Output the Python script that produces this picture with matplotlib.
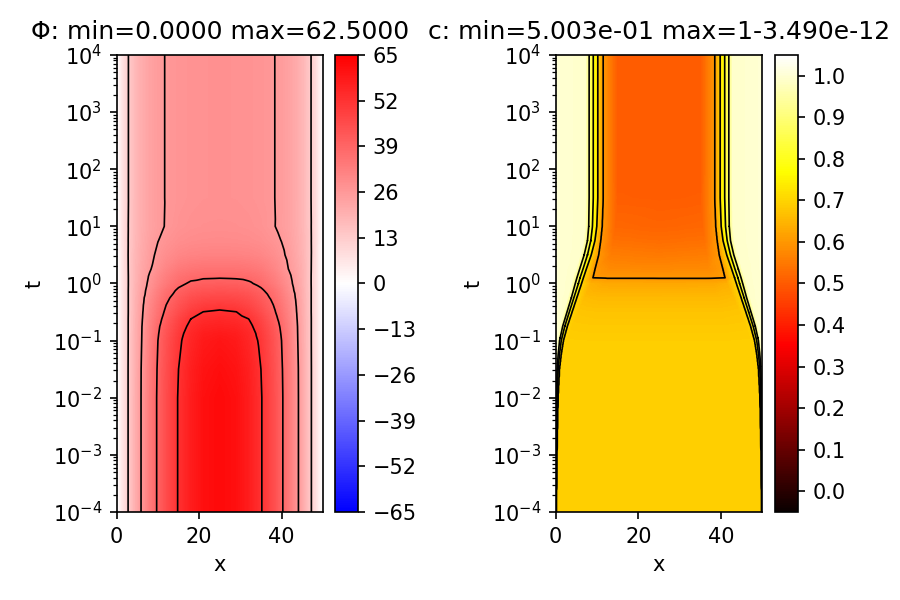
import numpy as np
import matplotlib
matplotlib.use("Agg")
import matplotlib.pyplot as plt
from matplotlib.tri import Triangulation, LinearTriInterpolator

# ---------------- data ----------------
L = 50.0  # domain length; both fields are symmetric about x = 25

# Phi: half-domain profiles (x <= 25) at several times (log10 t)
phi_x = [0, 1.5, 3, 4.5, 6, 8, 10, 12, 15, 18, 21, 25]
phi_logt = [-4, -2, -1.5, -1, -0.875, -0.75, -0.625, -0.5, -0.375, -0.25, -0.125,
            0, 0.125, 0.25, 0.5, 0.75, 1, 1.5, 2, 4]
phi_rows = [
    [0, 7.3, 14.1, 20.5, 26.4, 33.6, 40.0, 45.6, 52.5, 57.6, 60.9, 62.5],
    [0, 7.3, 14.1, 20.5, 26.4, 33.6, 40.0, 45.6, 52.5, 57.6, 60.9, 62.5],
    [0, 7.3, 14.1, 20.4, 26.3, 33.4, 39.7, 45.2, 52.0, 57.0, 60.0, 61.4],
    [0, 7.2, 14.0, 20.2, 25.8, 32.6, 39.0, 44.3, 50.8, 55.4, 58.3, 59.5],
    [0, 7.2, 14.0, 20.2, 25.7, 32.3, 38.5, 43.6, 50.0, 54.8, 57.3, 58.2],
    [0, 7.2, 14.0, 20.1, 25.6, 32.0, 37.9, 42.8, 48.8, 53.6, 55.8, 56.5],
    [0, 7.2, 14.0, 20.0, 25.3, 31.4, 36.9, 41.5, 47.5, 52.1, 54.0, 54.8],
    [0, 7.2, 13.9, 19.8, 25.0, 30.8, 35.8, 40.2, 45.4, 49.6, 52.1, 52.8],
    [0, 7.2, 13.9, 19.7, 24.7, 30.2, 34.9, 39.0, 43.8, 47.3, 49.3, 50.0],
    [0, 7.2, 13.9, 19.5, 24.3, 29.4, 33.8, 37.7, 42.0, 45.0, 46.5, 47.0],
    [0, 7.2, 13.9, 19.3, 23.8, 28.2, 32.6, 36.2, 40.0, 42.5, 43.6, 44.0],
    [0, 7.3, 13.8, 19.0, 23.2, 27.3, 30.9, 34.0, 37.6, 39.8, 40.9, 41.2],
    [0, 7.3, 13.8, 18.9, 22.8, 26.6, 29.9, 32.7, 35.9, 37.5, 38.0, 38.2],
    [0, 7.4, 13.9, 18.8, 22.3, 25.5, 28.5, 31.2, 34.0, 35.2, 35.7, 35.8],
    [0, 7.5, 14.0, 18.5, 21.5, 24.6, 27.0, 28.8, 30.6, 31.4, 31.7, 31.8],
    [0, 7.7, 13.9, 18.2, 21.1, 23.9, 25.9, 27.3, 28.7, 29.3, 29.6, 29.7],
    [0, 7.9, 13.8, 17.9, 20.8, 23.4, 25.0, 26.3, 27.6, 28.2, 28.5, 28.6],
    [0, 8.1, 13.6, 17.9, 20.8, 23.5, 25.1, 26.2, 27.1, 27.6, 27.9, 28.0],
    [0, 8.1, 13.6, 17.9, 20.8, 23.5, 25.1, 26.2, 27.1, 27.6, 27.9, 28.0],
    [0, 8.1, 13.6, 17.9, 20.8, 23.5, 25.1, 26.2, 27.1, 27.6, 27.9, 28.0],
]

# c: half-domain profiles; each time row has its own x sample points
c_logt = [-4, -3, -2, -1.5, -1.25, -1, -0.75, -0.5, -0.25, 0, 0.1, 0.25, 0.5,
          0.75, 1, 1.5, 2, 4]
c_x_rows = [
    [0, 0.02, 0.05, 0.10, 0.15, 0.5, 5, 25],
    [0, 0.03, 0.10, 0.18, 0.28, 0.6, 5, 25],
    [0, 0.05, 0.18, 0.35, 0.55, 1.0, 6, 25],
    [0, 0.10, 0.35, 0.60, 0.90, 1.5, 6, 25],
    [0, 0.25, 0.60, 0.90, 1.30, 2.0, 7, 25],
    [0, 0.45, 0.95, 1.35, 1.85, 2.8, 8, 25],
    [0, 1.00, 1.70, 2.20, 2.80, 4.0, 9, 25],
    [0, 1.90, 2.75, 3.30, 3.95, 5.5, 10, 25],
    [0, 2.90, 3.80, 4.40, 5.10, 7.0, 11, 25],
    [0, 3.80, 4.75, 5.50, 6.25, 8.5, 12, 25],
    [0, 4.20, 5.15, 5.90, 6.70, 9.0, 12.5, 25],
    [0, 4.90, 5.80, 6.60, 7.40, 9.5, 13, 25],
    [0, 6.00, 6.90, 7.70, 8.60, 10.4, 13.5, 25],
    [0, 6.80, 7.70, 8.50, 9.50, 10.9, 14, 25],
    [0, 7.10, 8.00, 8.90, 9.95, 11.25, 14.5, 25],
    [0, 7.20, 8.10, 9.10, 10.2, 11.5, 15, 25],
    [0, 7.20, 8.10, 9.10, 10.2, 11.5, 15, 25],
    [0, 7.20, 8.10, 9.10, 10.2, 11.5, 15, 25],
]
c_rows = [
    [1.0, 0.99, 0.9, 0.8, 0.7, 0.690, 0.690, 0.690],
    [1.0, 0.99, 0.9, 0.8, 0.7, 0.690, 0.690, 0.690],
    [1.0, 0.99, 0.9, 0.8, 0.7, 0.690, 0.690, 0.690],
    [1.0, 0.99, 0.9, 0.8, 0.7, 0.690, 0.690, 0.690],
    [1.0, 0.99, 0.9, 0.8, 0.7, 0.690, 0.690, 0.690],
    [1.0, 0.99, 0.9, 0.8, 0.7, 0.690, 0.689, 0.689],
    [1.0, 0.99, 0.9, 0.8, 0.7, 0.683, 0.681, 0.681],
    [1.0, 0.99, 0.9, 0.8, 0.7, 0.675, 0.672, 0.672],
    [1.0, 0.99, 0.9, 0.8, 0.7, 0.660, 0.655, 0.655],
    [1.0, 0.99, 0.9, 0.8, 0.7, 0.640, 0.628, 0.625],
    [1.0, 0.99, 0.9, 0.8, 0.7, 0.600, 0.597, 0.597],
    [1.0, 0.99, 0.9, 0.8, 0.7, 0.600, 0.578, 0.575],
    [1.0, 0.99, 0.9, 0.8, 0.7, 0.600, 0.556, 0.550],
    [1.0, 0.99, 0.9, 0.8, 0.7, 0.600, 0.535, 0.530],
    [1.0, 0.99, 0.9, 0.8, 0.7, 0.600, 0.520, 0.515],
    [1.0, 0.99, 0.9, 0.8, 0.7, 0.600, 0.505, 0.503],
    [1.0, 0.99, 0.9, 0.8, 0.7, 0.600, 0.501, 0.5003],
    [1.0, 0.99, 0.9, 0.8, 0.7, 0.600, 0.501, 0.5003],
]

phi_levels = [13, 26, 39, 52]
c_levels = [0.6, 0.7, 0.8, 0.9]
phi_ticks = [-65, -52, -39, -26, -13, 0, 13, 26, 39, 52, 65]
c_ticks = [0.0, 0.1, 0.2, 0.3, 0.4, 0.5, 0.6, 0.7, 0.8, 0.9, 1.0]
phi_title = "\u03a6: min=0.0000 max=62.5000"
c_title = "c: min=5.003e-01 max=1-3.490e-12"


# ---------------- helpers ----------------
def mirror(xs, vs):
    xs = list(xs)
    vs = list(vs)
    return xs + [L - x for x in xs[-2::-1]], vs + vs[-2::-1]


def build_field(logt, xrows, vrows):
    """Triangulate the sampled profiles in (x, log10 t) and let matplotlib's
    tri interpolator evaluate the field on a display grid."""
    X, Y, Z = [], [], []
    for lt, xr, vr in zip(logt, xrows, vrows):
        fx, fv = mirror(xr, vr)
        X.append(fx)
        Z.append(fv)
        Y.append([lt] * len(fx))
    X, Y, Z = np.array(X, float), np.array(Y, float), np.array(Z, float)
    ny, nx = X.shape
    idx = np.arange(ny * nx).reshape(ny, nx)
    a = idx[:-1, :-1].ravel()
    b = idx[:-1, 1:].ravel()
    c = idx[1:, :-1].ravel()
    d = idx[1:, 1:].ravel()
    tris = np.concatenate([np.stack([a, b, d], 1), np.stack([a, d, c], 1)])
    tri = Triangulation(X.ravel(), Y.ravel(), tris)
    interp = LinearTriInterpolator(tri, Z.ravel())
    gx = np.linspace(0, L, 501)
    gl = np.linspace(logt[0], logt[-1], 801)
    GX, GL = np.meshgrid(gx, gl)
    GZ = np.ma.filled(interp(GX, GL), np.nan)
    return gx, 10.0 ** gl, GZ


# ---------------- figure ----------------
plt.rcParams["font.family"] = ["DejaVu Sans"]
plt.rcParams["font.size"] = 10
fig = plt.figure(figsize=(6, 4), dpi=150)

ax1 = fig.add_axes([0.1297, 0.1467, 0.2289, 0.7617])
cax1 = fig.add_axes([0.3722, 0.1467, 0.0259, 0.7617])
ax2 = fig.add_axes([0.6174, 0.1467, 0.2296, 0.7617])
cax2 = fig.add_axes([0.8611, 0.1467, 0.0259, 0.7617])

px, pt, pz = build_field(phi_logt, [phi_x] * len(phi_logt), phi_rows)
cx, ct, cz = build_field(c_logt, c_x_rows, c_rows)

m1 = ax1.pcolormesh(px, pt, pz, shading="nearest", cmap="bwr", vmin=-65, vmax=65,
                    rasterized=True)
ax1.contour(px, pt, pz, levels=phi_levels, colors="k", linewidths=0.8)
m2 = ax2.pcolormesh(cx, ct, cz, shading="nearest", cmap="hot", vmin=-0.05, vmax=1.05,
                    rasterized=True)
ax2.contour(cx, ct, cz, levels=c_levels, colors="k", linewidths=0.8)

for ax, title in ((ax1, phi_title), (ax2, c_title)):
    ax.set_yscale("log")
    ax.set_xlim(0, L)
    ax.set_ylim(1e-4, 1e4)
    ax.set_xticks([0, 20, 40])
    ax.set_yticks([10.0 ** k for k in range(-4, 5)])
    ax.set_xlabel("x")
    ax.set_ylabel("t")
    ax.set_title(title, fontsize=12, pad=7.5)

fig.colorbar(m1, cax=cax1, ticks=phi_ticks)
cb2 = fig.colorbar(m2, cax=cax2, ticks=c_ticks)
cb2.ax.set_yticklabels([f"{v:.1f}" for v in c_ticks])

fig.savefig("out.png", dpi=150)
